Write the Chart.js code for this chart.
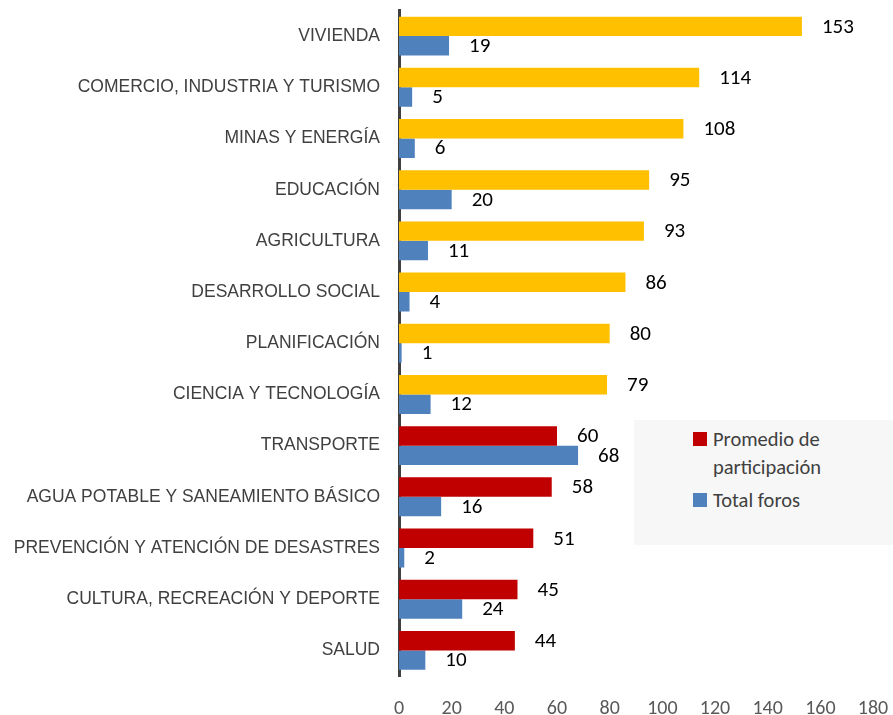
<!DOCTYPE html>
<html>
<head>
<meta charset="utf-8">
<script src="https://cdn.jsdelivr.net/npm/chart.js@4/dist/chart.umd.min.js"></script>
<style>
    body { margin: 0; background: #fff; }
    #wrap { position: relative; width: 893px; height: 715px; }
    #legendBox {
        position: absolute; left: 634px; top: 420px; width: 259px; height: 125px;
        background: #f7f7f7; font-family: Carlito, Lato, sans-serif; font-size: 20.5px; color: #404040;
    }
    .item { position: absolute; left: 59px; line-height: 28px; }
    .sw { display: inline-block; width: 14px; height: 14px; margin-right: 6px; }
</style>
</head>
<body>
<div id="wrap">
    <canvas id="chart" width="893" height="715"></canvas>
    <div id="legendBox">
        <div class="item" style="top:5px"><span class="sw" style="background:#C00000"></span>Promedio de<br><span style="padding-left:20px">participación</span></div>
        <div class="item" style="top:66px"><span class="sw" style="background:#4F81BD"></span>Total foros</div>
    </div>
</div>
<script>
const categories = ['VIVIENDA', 'COMERCIO, INDUSTRIA Y TURISMO', 'MINAS Y ENERGÍA', 'EDUCACIÓN', 'AGRICULTURA',
    'DESARROLLO SOCIAL', 'PLANIFICACIÓN', 'CIENCIA Y TECNOLOGÍA', 'TRANSPORTE',
    'AGUA POTABLE Y SANEAMIENTO BÁSICO', 'PREVENCIÓN Y ATENCIÓN DE DESASTRES',
    'CULTURA, RECREACIÓN Y DEPORTE', 'SALUD'];
const promedio = [153, 114, 108, 95, 93, 86, 80, 79, 60, 58, 51, 45, 44];
const totalForos = [19, 5, 6, 20, 11, 4, 1, 12, 68, 16, 2, 24, 10];
const xTicks = [0, 20, 40, 60, 80, 100, 120, 140, 160, 180];

// first 8 in yellow, the rest in red
const promedioColors = promedio.map((v, i) => i < 8 ? '#FFC000' : '#C00000');

// value labels at the end of each bar
const barLabels = {
    id: 'barLabels',
    afterDatasetsDraw(chart) {
        const ctx = chart.ctx;
        ctx.save();
        ctx.font = '21px Carlito, Lato, sans-serif';
        ctx.fillStyle = '#000';
        ctx.textAlign = 'left';
        ctx.textBaseline = 'middle';
        chart.data.datasets.forEach((ds, di) => {
            chart.getDatasetMeta(di).data.forEach((el, i) => {
                ctx.fillText(ds.data[i], el.x + 20, el.y + 1);
            });
        });
        ctx.restore();
    }
};

const ctx = document.getElementById('chart').getContext('2d');
new Chart(ctx, {
    type: 'bar',
    data: {
        labels: categories,
        datasets: [{
            label: 'Promedio de participación',
            data: promedio,
            backgroundColor: promedioColors,
            categoryPercentage: 0.76,
            barPercentage: 1.0
        }, {
            label: 'Total foros',
            data: totalForos,
            backgroundColor: '#4F81BD',
            categoryPercentage: 0.76,
            barPercentage: 1.0
        }]
    },
    options: {
        indexAxis: 'y',
        responsive: false,
        animation: false,
        layout: { padding: { top: 10, right: 20, left: 0, bottom: 0 } },
        plugins: { legend: { display: false }, tooltip: { enabled: false } },
        scales: {
            x: {
                min: 0, max: 180,
                afterBuildTicks: (s) => { s.ticks = xTicks.map(v => ({ value: v })); },
                afterFit: (s) => { s.height = 39; },
                grid: { display: false, drawTicks: true, tickLength: 21 },
                border: { display: false },
                ticks: { color: '#595959', font: { family: 'Carlito, Lato, sans-serif', size: 20 }, padding: 0 }
            },
            y: {
                afterFit: (s) => { s.width = 399; },
                grid: { display: false, drawTicks: true, tickLength: 19 },
                border: { display: true, color: '#404040', width: 3 },
                ticks: { color: '#404040', font: { family: '"Liberation Sans", sans-serif', size: 17.5 }, padding: 0 }
            }
        }
    },
    plugins: [barLabels]
});
</script>
</body>
</html>
